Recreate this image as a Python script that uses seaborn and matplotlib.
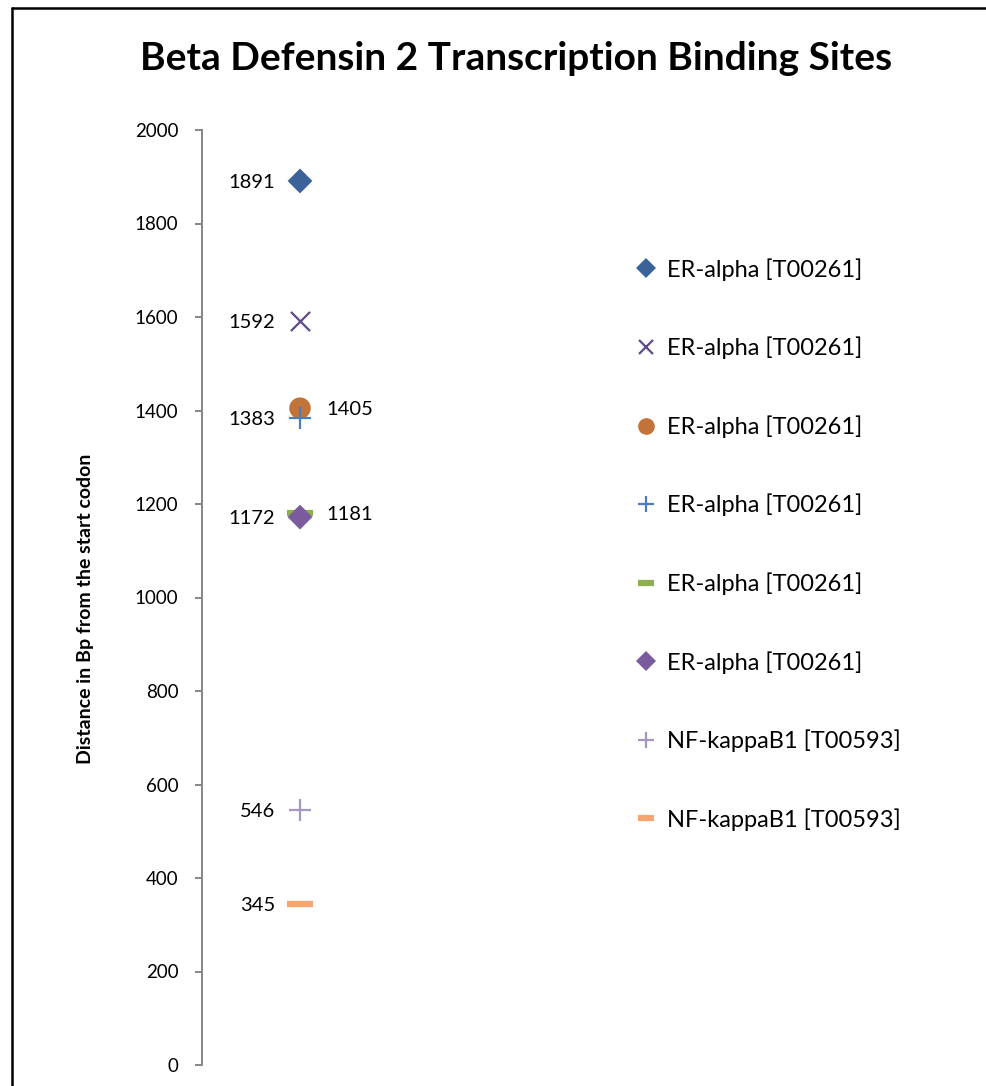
import matplotlib
matplotlib.use("Agg")
import matplotlib.pyplot as plt
from matplotlib.lines import Line2D
import seaborn as sns
import pandas as pd

# ---- data ----
series_names = ["ER-alpha [T00261]", "ER-alpha [T00261]", "ER-alpha [T00261]",
                "ER-alpha [T00261]", "ER-alpha [T00261]", "ER-alpha [T00261]",
                "NF-kappaB1 [T00593]", "NF-kappaB1 [T00593]"]
positions = [1891, 1592, 1405, 1383, 1181, 1172, 546, 345]
x_pos = [1, 1, 1, 1, 1, 1, 1, 1]
legend_order = [0, 1, 2, 3, 4, 5, 6, 7]
label_side = ["left", "left", "right", "left", "right", "left", "left", "left"]
y_ticks = [0, 200, 400, 600, 800, 1000, 1200, 1400, 1600, 1800, 2000]

# ---- style ----
markers = ["D", "x", "o", "+", "_", "D", "+", "_"]
colors = ["#3C6399", "#5E4A8A", "#C2733A", "#4A7EBB", "#8DB04F", "#7A5C9E", "#A596C2", "#F8A46E"]
sizes = [160, 190, 240, 230, 330, 160, 230, 330]
lws = [0, 1.6, 0, 1.6, 4.5, 0, 1.6, 4.5]

sns.set_style("white")
plt.rcParams['font.family'] = ['Lato', 'DejaVu Sans']
plt.rcParams['text.color'] = 'black'
plt.rcParams['axes.labelcolor'] = 'black'
plt.rcParams['ytick.color'] = 'black'

W, H = 987, 1086
fig = plt.figure(figsize=(W / 100, H / 100), dpi=100)
ax = fig.add_axes([202 / W, (H - 1065) / H, 196 / W, 935 / H])

df = pd.DataFrame({"x": x_pos, "y": positions, "series": series_names})

handles = []
for i in range(len(positions)):
    sub = df.iloc[[i]]
    filled = markers[i] in ("D", "o")
    kw = dict(marker=markers[i], s=sizes[i], color=colors[i], ax=ax, zorder=3 + (1 if i == 5 else 0))
    if filled:
        kw.update(edgecolor="none", linewidth=0)
    else:
        kw.update(edgecolor=colors[i], linewidth=lws[i])
    sns.scatterplot(data=sub, x="x", y="y", legend=False, **kw)
    ms = {"D": 10, "x": 10, "o": 12, "+": 11, "_": 12}[markers[i]]
    handles.append(Line2D([], [], linestyle="none", marker=markers[i], color=colors[i],
                          markersize=ms, markeredgewidth=(lws[i] if not filled else 0),
                          markerfacecolor=colors[i], markeredgecolor=colors[i]))

# data labels
for i, (xv, yv) in enumerate(zip(x_pos, positions)):
    if label_side[i] == "left":
        ax.annotate(str(yv), (xv, yv), xytext=(-18, -1), textcoords="offset points",
                    ha="right", va="center", fontsize=14.5, color="black")
    else:
        ax.annotate(str(yv), (xv, yv), xytext=(19, -1), textcoords="offset points",
                    ha="left", va="center", fontsize=14.5, color="black")

ax.set_xlim(0, 2)
ax.set_ylim(0, 2000)
ax.set_yticks(y_ticks)
ax.set_yticklabels([str(t) for t in y_ticks])
ax.set_xticks([])
ax.set_xlabel("")
ax.set_ylabel("")
for s in ("top", "right", "bottom"):
    ax.spines[s].set_visible(False)
ax.spines["left"].set_color("#868686")
ax.spines["left"].set_linewidth(1.4)
ax.tick_params(axis="y", which="both", left=True, length=5, width=1.4, color="#868686",
               labelcolor="black", labelsize=13.5, pad=12, direction="out")
ax.set_facecolor("none")

fig.text(86 / W, 1 - 609 / H, "Distance in Bp from the start codon", rotation=90,
         ha="center", va="center", fontsize=14, fontweight="bold", color="black")

fig.text(516 / W, 1 - 58 / H, "Beta Defensin 2 Transcription Binding Sites",
         ha="center", va="center", fontsize=28, fontweight="bold", color="black")

leg = fig.legend([handles[j] for j in legend_order], [series_names[j] for j in legend_order],
                 loc="upper left", bbox_to_anchor=(634 / W, 1 - 258 / H),
                 frameon=False, fontsize=17, labelspacing=2.37, handlelength=1.0,
                 handletextpad=0.4, borderpad=0, borderaxespad=0)
for t in leg.get_texts():
    t.set_color("black")

# outer chart border (left and top)
fig.add_artist(Line2D([11.5 / W, 11.5 / W], [0, 1 - 7.5 / H], color="black", linewidth=1.8,
                      transform=fig.transFigure))
fig.add_artist(Line2D([11.5 / W, 1], [1 - 7.5 / H, 1 - 7.5 / H], color="black", linewidth=1.8,
                      transform=fig.transFigure))

fig.savefig("out.png", dpi=100)
